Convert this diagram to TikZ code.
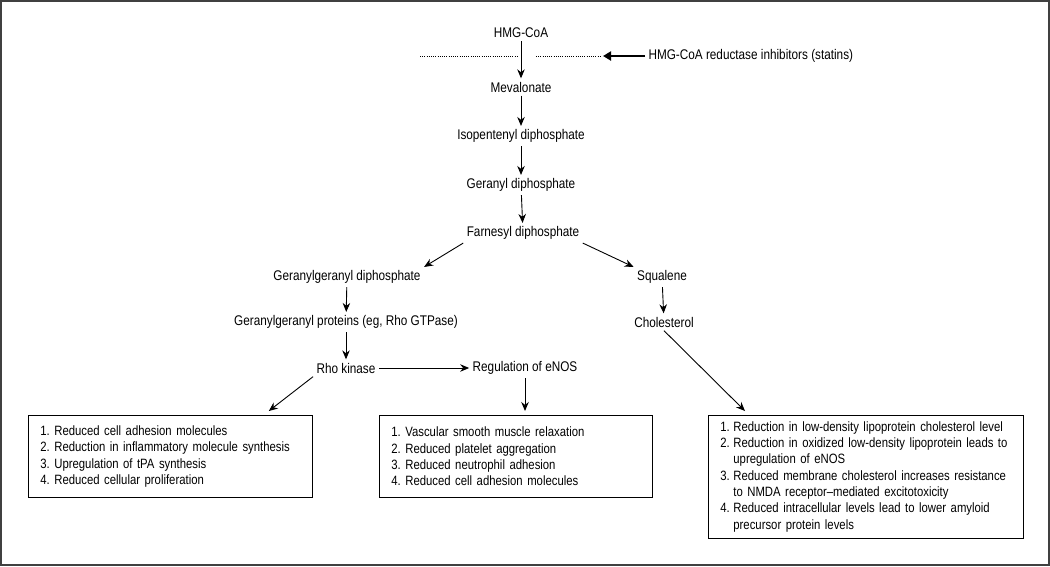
\documentclass[tikz,border=0pt]{standalone}
\usepackage{fontspec}
\setmainfont{Liberation Sans}[FakeStretch=0.84]
\usetikzlibrary{arrows.meta}
\begin{document}
\frenchspacing
\begin{tikzpicture}[x=1pt,y=-1pt,font=\fontsize{14}{16.3}\selectfont,
  flow/.style={-{Stealth[length=9pt,width=7.5pt]},line width=0.9pt},
  effect/.style={draw,line width=0.8pt,anchor=north west,align=left,inner xsep=12pt,
    font=\fontsize{13.5}{16.3}\selectfont}]
  \useasboundingbox (0,0) rectangle (1050,566);
  \draw[line width=2pt,black!75] (1,1) rectangle (1049,565);
  % pathway
  \node (hmg) at (521,33) {HMG-CoA};
  \node (meva) at (521,87) {Mevalonate};
  \node (ipp) at (521,136) {Isopentenyl diphosphate};
  \node (gpp) at (521,185) {Geranyl diphosphate};
  \node (fpp) at (523,233) {Farnesyl diphosphate};
  \node (ggpp) at (347,277) {Geranylgeranyl diphosphate};
  \node (squal) at (662,277) {Squalene};
  \node (ggprot) at (346,322) {Geranylgeranyl proteins (eg, Rho GTPase)};
  \node (chol) at (664,322) {Cholesterol};
  \node (rhok) at (346,368) {Rho kinase};
  \node (enos) at (525,368) {Regulation of eNOS};
  % statins block
  \node (statins) [anchor=west] at (645,56) {HMG-CoA reductase inhibitors (statins)};
  \coordinate (block) at (603,56);
  \draw[line width=1pt,dash pattern=on 1pt off 1.2pt] (420,56) -- (518,56) (536,56) -- (600,56);
  \draw[line width=2.4pt,-{Triangle[length=8pt,width=9pt]}] (statins.west) -- (block);
  % effect boxes
  \node[effect,text width=260pt,minimum height=82pt] (box1) at (28,415)
    {1. Reduced cell adhesion molecules\\
     2. Reduction in inflammatory molecule synthesis\\
     3. Upregulation of tPA synthesis\\
     4. Reduced cellular proliferation};
  \node[effect,text width=249pt,minimum height=82pt] (box2) at (379,415)
    {1. Vascular smooth muscle relaxation\\
     2. Reduced platelet aggregation\\
     3. Reduced neutrophil adhesion\\
     4. Reduced cell adhesion molecules};
  \node[effect,text width=291pt,minimum height=123pt] (box3) at (708,415)
    {\begin{tabular}{@{}p{13pt}@{}l@{}}
     1. & Reduction in low-density lipoprotein cholesterol level\\
     2. & Reduction in oxidized low-density lipoprotein leads to\\
        & upregulation of eNOS\\
     3. & Reduced membrane cholesterol increases resistance\\
        & to NMDA receptor--mediated excitotoxicity\\
     4. & Reduced intracellular levels lead to lower amyloid\\
        & precursor protein levels
     \end{tabular}};
  % arrows
  \draw[flow] (hmg) -- (meva);
  \draw[flow] (meva) -- (ipp);
  \draw[flow] (ipp) -- (gpp);
  \draw[flow] (gpp) -- (fpp);
  \draw[flow] (fpp.south west) -- (ggpp.north east);
  \draw[flow] (fpp.south east) -- (squal.north west);
  \draw[flow] (ggpp) -- (ggprot);
  \draw[flow] (squal) -- (chol);
  \draw[flow] (ggprot) -- (rhok);
  \draw[flow] (rhok) -- (enos);
  \draw[flow] (rhok.south west) -- ([xshift=-44pt,yshift=4pt]box1.north east);
  \draw[flow,shorten >=4pt] (enos.south) -- (enos.south |- box2.north);
  \draw[flow] (chol.south) -- ([xshift=37pt,yshift=4pt]box3.north west);
\end{tikzpicture}
\end{document}
